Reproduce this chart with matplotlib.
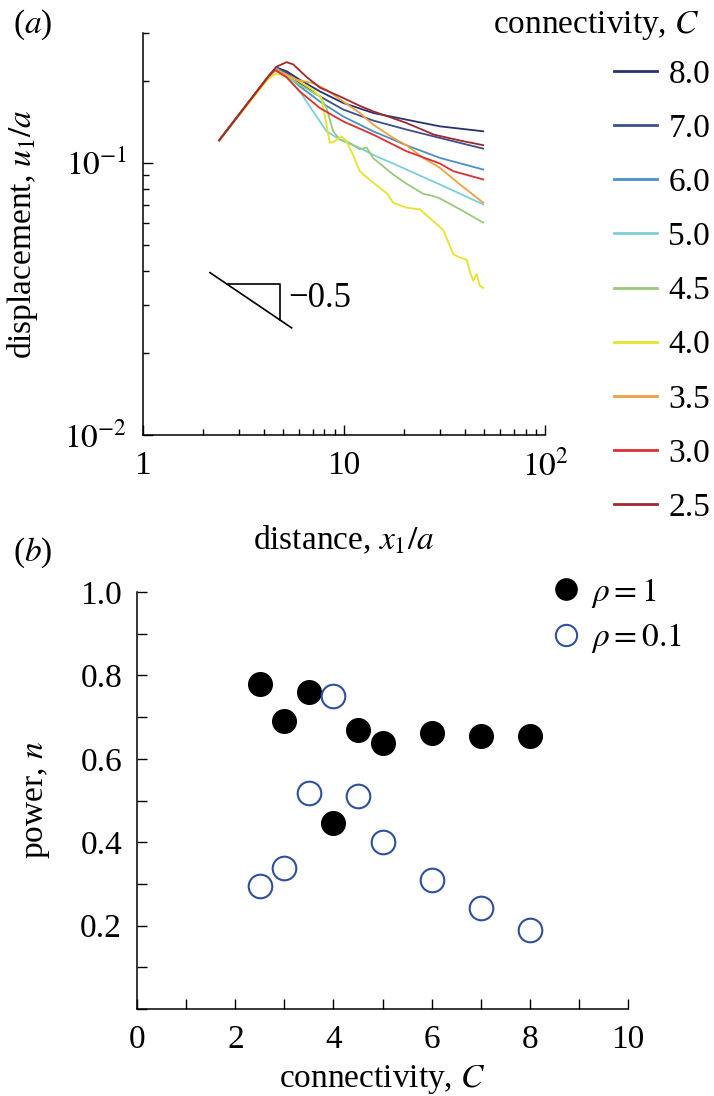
import matplotlib
matplotlib.use("Agg")
import matplotlib.pyplot as plt
from matplotlib.ticker import FixedLocator, FixedFormatter, LogLocator, NullFormatter, MultipleLocator

plt.rcParams["font.family"] = ["Liberation Serif", "DejaVu Serif"]
plt.rcParams["mathtext.fontset"] = "stix"
FS = 24

# ---- panel (a): displacement vs distance, one curve per connectivity ----
conn_labels = ["8.0", "7.0", "6.0", "5.0", "4.5", "4.0", "3.5", "3.0", "2.5"]
conn_colors = ["#28326f", "#3b4f8e", "#4a90c8", "#7ccfd8", "#98c97a",
               "#e6e42a", "#f0a040", "#d93030", "#9e2a2e"]

x80 = [2.4, 4.2, 4.62, 5.2, 6.04, 7.6, 9.93, 14.0, 20.5, 30.0, 49.3]
y80 = [0.121, 0.207, 0.224, 0.217, 0.202, 0.183, 0.166, 0.1525, 0.1441, 0.1362, 0.1306]

x70 = [2.4, 4.2, 4.62, 5.2, 6.04, 7.6, 9.93, 14.0, 20.5, 30.0, 49.3]
y70 = [0.121, 0.207, 0.223, 0.214, 0.196, 0.1755, 0.157, 0.143, 0.1325, 0.1235, 0.1128]

x60 = [2.4, 4.2, 4.62, 5.2, 6.04, 7.6, 9.93, 14.0, 20.5, 30.0, 49.3]
y60 = [0.121, 0.207, 0.223, 0.210, 0.191, 0.168, 0.148, 0.1306, 0.116, 0.1043, 0.0945]

x50 = [2.4, 4.2, 4.62, 5.2, 6.04, 7.03, 8.2, 9.55, 12.0, 14.0, 20.5, 30.0, 49.3]
y50 = [0.121, 0.207, 0.2215, 0.207, 0.183, 0.1546, 0.1306, 0.1218, 0.1135, 0.107,
       0.0945, 0.0833, 0.0704]

x45 = [2.4, 4.2, 4.54, 5.2, 6.04, 7.6, 8.2, 8.85, 9.55, 10.7, 12.0, 12.97, 14.0, 17.6,
       20.5, 24.8, 27.8, 30.0, 37.8, 49.3]
y45 = [0.121, 0.206, 0.218, 0.208, 0.1936, 0.1755, 0.159, 0.1306, 0.1218, 0.1184,
       0.112, 0.114, 0.104, 0.0906, 0.0838, 0.077, 0.0755, 0.074, 0.0675, 0.0603]

x40 = [2.4, 4.2, 4.54, 5.19, 6.04, 7.03, 7.74, 8.2, 8.51, 9.02, 9.74, 10.3, 11.1, 12.0,
       14.0, 16.3, 17.6, 20.5, 23.9, 27.8, 31.2, 35.0, 37.8, 40.8, 42.4, 44.0,
       45.7, 47.5, 49.3]
y40 = [0.121, 0.203, 0.2118, 0.210, 0.1991, 0.1856, 0.173, 0.1381, 0.1184, 0.1201,
       0.125, 0.1201, 0.1072, 0.0932, 0.0845, 0.0775, 0.0714, 0.0684, 0.0675, 0.0611,
       0.0567, 0.0461, 0.0449, 0.044, 0.0396, 0.0369, 0.039, 0.0353, 0.0347]

x35 = [2.4, 4.2, 4.62, 5.2, 5.82, 7.03, 8.2, 9.93, 12.0, 14.0, 17.6, 20.5, 24.8, 30.0,
       37.8, 49.3]
y35 = [0.121, 0.206, 0.2198, 0.211, 0.202, 0.1963, 0.1856, 0.168, 0.1525, 0.1381,
       0.1235, 0.116, 0.1043, 0.0959, 0.0833, 0.0714]

x30 = [2.4, 4.2, 4.54, 5.2, 6.04, 7.6, 9.93, 14.0, 20.5, 30.0, 35.0, 49.3]
y30 = [0.121, 0.207, 0.2198, 0.206, 0.183, 0.159, 0.142, 0.127, 0.1103, 0.0995,
       0.0932, 0.0869]

x25 = [2.4, 4.2, 4.62, 5.19, 5.6, 6.52, 7.6, 9.55, 12.0, 14.0, 20.5, 28.0, 37.8, 49.3]
y25 = [0.121, 0.207, 0.2255, 0.2344, 0.230, 0.207, 0.189, 0.1755, 0.162, 0.1546,
       0.1401, 0.127, 0.1208, 0.1161]

curves_x = [x80, x70, x60, x50, x45, x40, x35, x30, x25]
curves_y = [y80, y70, y60, y50, y45, y40, y35, y30, y25]

# slope triangle (-0.5) anchor
tri_x0, tri_y0 = 2.16, 0.0395
tri_x1 = 5.5
tri_top_x = [2.62, 4.83]

# ---- panel (b): power n vs connectivity ----
C_vals = [2.5, 3.0, 3.5, 4.0, 4.5, 5.0, 6.0, 7.0, 8.0]
n_rho1 = [0.779, 0.690, 0.759, 0.446, 0.668, 0.638, 0.662, 0.654, 0.655]
n_rho01 = [0.294, 0.338, 0.519, 0.750, 0.511, 0.400, 0.309, 0.242, 0.190]

W, H = 714, 1096
fig = plt.figure(figsize=(W / 100, H / 100), dpi=100)


def fx(px):
    return px / W


def fy(py):
    return 1 - py / H


def style(ax):
    for s in ["top", "right"]:
        ax.spines[s].set_visible(False)
    for s in ["left", "bottom"]:
        ax.spines[s].set_linewidth(1.1)
    ax.tick_params(which="both", direction="in", top=False, right=False,
                   labelsize=FS, width=1.0)


ax1 = fig.add_axes([fx(142.7), fy(435), fx(545) - fx(142.7), fy(33) - fy(435)])
for xs, ys, col, lab in zip(curves_x, curves_y, conn_colors, conn_labels):
    ax1.plot(xs, ys, color=col, lw=1.3, label=lab)
ax1.set_xscale("log")
ax1.set_yscale("log")
ax1.set_xlim(1, 100)
ax1.set_ylim(0.01, 0.3)
style(ax1)
ax1.xaxis.set_major_locator(FixedLocator([1, 10, 100]))
ax1.xaxis.set_major_formatter(FixedFormatter(["1", "10", "$10^2$"]))
ax1.xaxis.set_minor_locator(LogLocator(base=10, subs=range(2, 10)))
ax1.xaxis.set_minor_formatter(NullFormatter())
ax1.yaxis.set_major_locator(FixedLocator([0.01, 0.1]))
ax1.yaxis.set_major_formatter(FixedFormatter(["$10^{-2}$", "$10^{-1}$"]))
ax1.yaxis.set_minor_locator(LogLocator(base=10, subs=range(2, 10)))
ax1.yaxis.set_minor_formatter(NullFormatter())
ax1.tick_params(which="major", length=7, pad=11)
ax1.tick_params(which="minor", length=4)

# slope triangle
hyp_y1 = tri_y0 * (tri_x1 / tri_x0) ** -0.5
top_y = tri_y0 * (tri_top_x[0] / tri_x0) ** -0.5
corner_y = tri_y0 * (tri_top_x[1] / tri_x0) ** -0.5
ax1.plot([tri_x0, tri_x1], [tri_y0, hyp_y1], color="black", lw=1.2)
ax1.plot([tri_top_x[0], tri_top_x[1], tri_top_x[1]], [top_y, top_y, corner_y],
         color="black", lw=1.2)
ax1.text(5.3, 0.0318, "\u22120.5", fontsize=FS + 1, ha="left", va="center")

leg1 = ax1.legend(loc="center left", bbox_to_anchor=(fx(614), fy(291)),
                  bbox_transform=fig.transFigure, frameon=False, fontsize=FS,
                  handlelength=1.3, handletextpad=0.33, labelspacing=0.71,
                  borderpad=0, borderaxespad=0)
for h in leg1.get_lines():
    h.set_linewidth(2.0)

fig.text(fx(13), fy(25), "($a$)", fontsize=FS, ha="left", va="center")
fig.text(fx(700), fy(25), "connectivity, $C$", fontsize=FS, ha="right", va="center")
fig.text(fx(23), fy(234), "displacement, $u_1/a$", fontsize=FS, rotation=90,
         ha="center", va="center")
fig.text(fx(344), fy(540), "distance, $x_1/a$", fontsize=FS, ha="center", va="center")

# panel (b)
ax2 = fig.add_axes([fx(137.3), fy(1009), fx(627.7) - fx(137.3), fy(592) - fy(1009)])
ax2.plot(C_vals, n_rho1, "o", color="black", ms=17, label=r"$\rho = 1$")
ax2.plot(C_vals, n_rho01, "o", mfc="white", mec="#2f4f9f", mew=1.5, ms=17,
         label=r"$\rho = 0.1$")
ax2.set_xlim(0, 10)
ax2.set_ylim(0, 1.0)
style(ax2)
ax2.xaxis.set_major_locator(FixedLocator([0, 2, 4, 6, 8, 10]))
ax2.xaxis.set_minor_locator(MultipleLocator(1))
ax2.yaxis.set_major_locator(FixedLocator([0.2, 0.4, 0.6, 0.8, 1.0]))
ax2.yaxis.set_major_formatter(FixedFormatter(["0.2", "0.4", "0.6", "0.8", "1.0"]))
ax2.yaxis.set_minor_locator(MultipleLocator(0.1))
ax2.tick_params(which="both", length=7, pad=11)

ax2.legend(loc="center left", bbox_to_anchor=(fx(553), fy(615.5)),
           bbox_transform=fig.transFigure, frameon=False, fontsize=FS,
           handlelength=0.75, handletextpad=0.38, labelspacing=0.35,
           borderpad=0, borderaxespad=0, markerscale=0.9)

fig.text(fx(13), fy(553), "($b$)", fontsize=FS, ha="left", va="center")
fig.text(fx(37), fy(800), "power, $n$", fontsize=FS, rotation=90,
         ha="center", va="center")
fig.text(fx(382), fy(1080), "connectivity, $C$", fontsize=FS, ha="center", va="center")

fig.savefig("out.png", dpi=100)
